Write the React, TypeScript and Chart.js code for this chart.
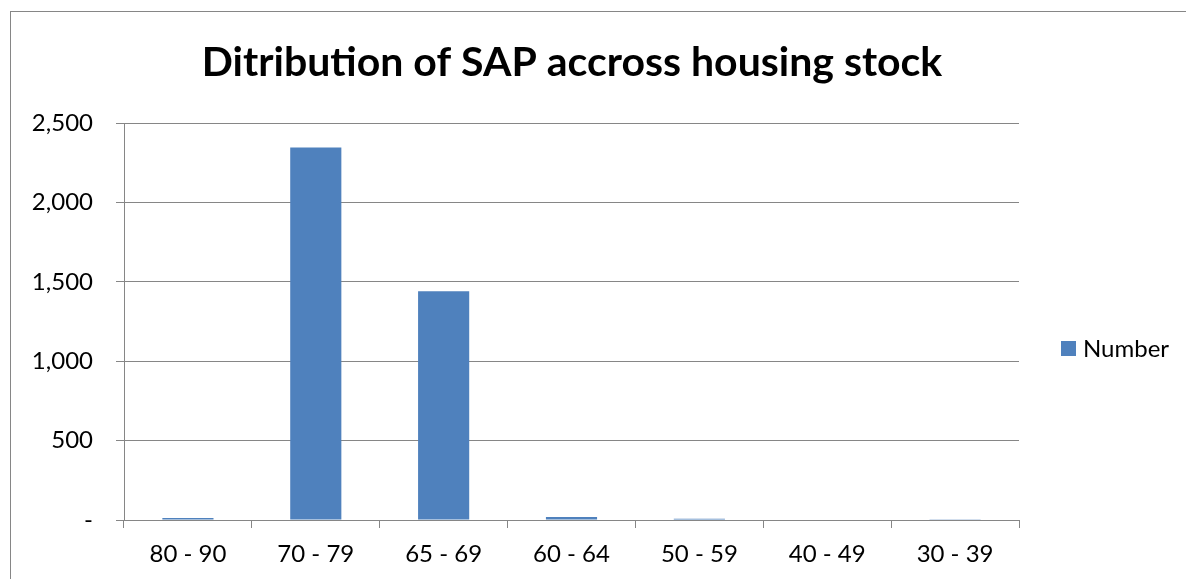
import React, { useEffect, useRef } from "react";
import { Chart, registerables } from "chart.js";

Chart.register(...registerables);

const TITLE = "Ditribution of SAP accross housing stock";
const categories = ["80 - 90", "70 - 79", "65 - 69", "60 - 64", "50 - 59", "40 - 49", "30 - 39"];
const seriesName = "Number";
const numberValues = [13, 2346, 1440, 19, 8, 3, 1];
const yTicks = [0, 500, 1000, 1500, 2000, 2500];

const BAR_COLOR = "#4F81BD";
const LINE_COLOR = "#868686";
const FONT = "Lato, 'Open Sans', sans-serif";

const frameTitleLegend = {
  id: "frameTitleLegend",
  beforeDraw(chart: any) {
    const ctx = chart.ctx;
    ctx.save();
    ctx.fillStyle = "#ffffff";
    ctx.fillRect(0, 0, chart.width, chart.height);
    ctx.strokeStyle = LINE_COLOR;
    ctx.lineWidth = 1;
    ctx.strokeRect(10.5, 11.5, chart.width + 20, chart.height + 40);
    ctx.restore();
  },
  afterDraw(chart: any) {
    const ctx = chart.ctx;
    const ds = chart.data.datasets[0];
    ctx.save();
    // title
    ctx.fillStyle = "#000000";
    ctx.font = `bold 41px ${FONT}`;
    ctx.textAlign = "center";
    ctx.textBaseline = "middle";
    ctx.fillText(TITLE, 572, 63);
    // legend
    ctx.fillStyle = ds.backgroundColor;
    ctx.fillRect(1061, 341, 15, 15);
    ctx.fillStyle = "#000000";
    ctx.font = `24px ${FONT}`;
    ctx.textBaseline = "middle";
    ctx.textAlign = "left";
    ctx.fillText(ds.label, 1083, 349);
    ctx.restore();
  },
};

export default function App() {
  const ref = useRef<HTMLCanvasElement | null>(null);

  useEffect(() => {
    if (!ref.current) return;
    const chart = new Chart(ref.current, {
      type: "bar",
      data: {
        labels: categories,
        datasets: [
          {
            label: seriesName,
            data: numberValues,
            backgroundColor: BAR_COLOR,
            borderWidth: 0,
            categoryPercentage: 1,
            barPercentage: 0.4,
          },
        ],
      },
      options: {
        animation: false,
        responsive: false,
        layout: { padding: { left: 0, right: 167, top: 123, bottom: 0 } },
        plugins: {
          legend: { display: false },
          tooltip: { enabled: false },
          title: { display: false },
        },
        scales: {
          x: {
            offset: true,
            grid: {
              offset: true,
              drawOnChartArea: false,
              drawTicks: true,
              tickLength: 8,
              color: LINE_COLOR,
            },
            border: { display: true, color: LINE_COLOR },
            ticks: {
              color: "#000000",
              font: { family: FONT, size: 24 },
              padding: 12,
              maxRotation: 0,
              autoSkip: false,
            },
            afterFit(scale: any) {
              scale.height = 59;
            },
          },
          y: {
            min: 0,
            max: 2500,
            afterBuildTicks(scale: any) {
              scale.ticks = yTicks.map((v) => ({ value: v }));
            },
            grid: {
              color: LINE_COLOR,
              drawTicks: true,
              tickLength: 8,
            },
            border: { display: true, color: LINE_COLOR },
            ticks: {
              color: "#000000",
              font: { family: FONT, size: 24 },
              padding: 23,
              callback: (v: any) => (Number(v) === 0 ? "-" : Number(v).toLocaleString("en-US")),
            },
            afterFit(scale: any) {
              scale.width = 124;
            },
          },
        },
      },
      plugins: [frameTitleLegend],
    });
    return () => chart.destroy();
  }, []);

  return (
    <div style={{ position: "fixed", left: 0, top: 0, width: 1186, height: 579, background: "#fff" }}>
      <canvas ref={ref} width={1186} height={579} />
    </div>
  );
}
